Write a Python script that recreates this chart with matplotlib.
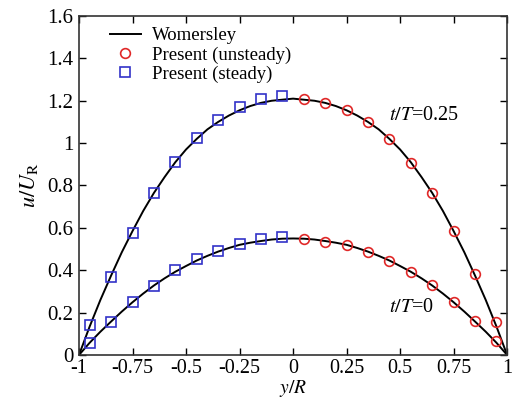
import matplotlib
matplotlib.use("Agg")
import matplotlib.pyplot as plt
from matplotlib.ticker import FuncFormatter

# Womersley profiles
y_line = [-1.0, -0.95, -0.9, -0.85, -0.8, -0.75, -0.7, -0.65, -0.6, -0.55, -0.5,
          -0.45, -0.4, -0.35, -0.3, -0.25, -0.2, -0.15, -0.1, -0.05, 0.0,
          0.05, 0.1, 0.15, 0.2, 0.25, 0.3, 0.35, 0.4, 0.45, 0.5,
          0.55, 0.6, 0.65, 0.7, 0.75, 0.8, 0.85, 0.9, 0.95, 1.0]
wom_025 = [0.0, 0.135, 0.26, 0.375, 0.485, 0.585, 0.68, 0.765, 0.84, 0.91, 0.97,
           1.02, 1.065, 1.10, 1.13, 1.155, 1.175, 1.19, 1.20, 1.205, 1.21,
           1.205, 1.20, 1.19, 1.175, 1.155, 1.13, 1.10, 1.065, 1.02, 0.97,
           0.91, 0.84, 0.765, 0.68, 0.585, 0.485, 0.375, 0.26, 0.135, 0.0]
wom_0 = [0.0, 0.058, 0.11, 0.158, 0.205, 0.249, 0.29, 0.328, 0.362, 0.393, 0.42,
         0.446, 0.468, 0.488, 0.505, 0.52, 0.53, 0.538, 0.545, 0.549, 0.55,
         0.549, 0.545, 0.538, 0.53, 0.52, 0.505, 0.488, 0.468, 0.446, 0.42,
         0.393, 0.362, 0.328, 0.29, 0.249, 0.205, 0.158, 0.11, 0.058, 0.0]

# present (steady) - left half
y_steady = [-0.95, -0.85, -0.75, -0.65, -0.55, -0.45, -0.35, -0.25, -0.15, -0.05]
steady_025 = [0.141, 0.366, 0.577, 0.765, 0.91, 1.023, 1.108, 1.169, 1.207, 1.221]
steady_0 = [0.056, 0.155, 0.249, 0.324, 0.399, 0.451, 0.493, 0.526, 0.549, 0.559]

# present (unsteady) - right half
y_unsteady = [0.05, 0.15, 0.25, 0.35, 0.45, 0.55, 0.65, 0.75, 0.85, 0.95]
unsteady_025 = [1.207, 1.188, 1.155, 1.098, 1.019, 0.906, 0.765, 0.587, 0.38, 0.155]
unsteady_0 = [0.549, 0.535, 0.52, 0.488, 0.446, 0.394, 0.329, 0.249, 0.16, 0.066]

xticks = [-1, -0.75, -0.5, -0.25, 0, 0.25, 0.5, 0.75, 1]
yticks = [0, 0.2, 0.4, 0.6, 0.8, 1.0, 1.2, 1.4, 1.6]

plt.rcParams["font.family"] = ["Liberation Serif", "DejaVu Serif"]
plt.rcParams["mathtext.fontset"] = "stix"

red = "#e02828"
blue = "#3232c8"

fig = plt.figure(figsize=(5.18, 4.0), dpi=100)
ax = fig.add_axes([0.1525, 0.1125, 0.8265, 0.8475])

ax.plot(y_line, wom_025, color="black", lw=1.4, label="Womersley", zorder=2)
ax.plot(y_line, wom_0, color="black", lw=1.4, zorder=2)

ax.plot(y_unsteady, unsteady_025, "o", mfc="none", mec=red, mew=1.2, ms=7,
        label="Present (unsteady)", zorder=3)
ax.plot(y_unsteady, unsteady_0, "o", mfc="none", mec=red, mew=1.2, ms=7, zorder=3)
ax.plot(y_steady, steady_025, "s", mfc="none", mec=blue, mew=1.2, ms=6.5,
        label="Present (steady)", zorder=3)
ax.plot(y_steady, steady_0, "s", mfc="none", mec=blue, mew=1.2, ms=6.5, zorder=3)

ax.text(0.45, 1.13, r"$t/T$=0.25", fontsize=14.5, va="center", ha="left")
ax.text(0.45, 0.225, r"$t/T$=0", fontsize=14.5, va="center", ha="left")

ax.set_xlim(-1, 1)
ax.set_ylim(0, 1.6)
ax.set_xticks(xticks)
ax.set_yticks(yticks)
fmt = FuncFormatter(lambda v, p: ("%g" % round(v, 2)))
ax.xaxis.set_major_formatter(fmt)
ax.yaxis.set_major_formatter(fmt)
ax.tick_params(direction="in", top=True, right=True, length=5, width=1,
               labelsize=15)
ax.tick_params(axis="x", labelsize=14.5, pad=3)
ax.tick_params(axis="y", pad=4)
for s in ax.spines.values():
    s.set_linewidth(1.2)
    s.set_color("#333333")

ax.set_xlabel(r"$y/R$", fontsize=14, va="bottom")
ax.xaxis.set_label_coords(0.5, -0.13)
ax.set_ylabel(r"$u/U_{\mathrm{R}}$", fontsize=16, labelpad=5)

ax.legend(loc="upper left", bbox_to_anchor=(0.045, 1.0), frameon=False,
          fontsize=13.5, handlelength=1.7, handletextpad=0.55,
          labelspacing=0.1, borderaxespad=0.2)

fig.savefig("out.png", dpi=100)
